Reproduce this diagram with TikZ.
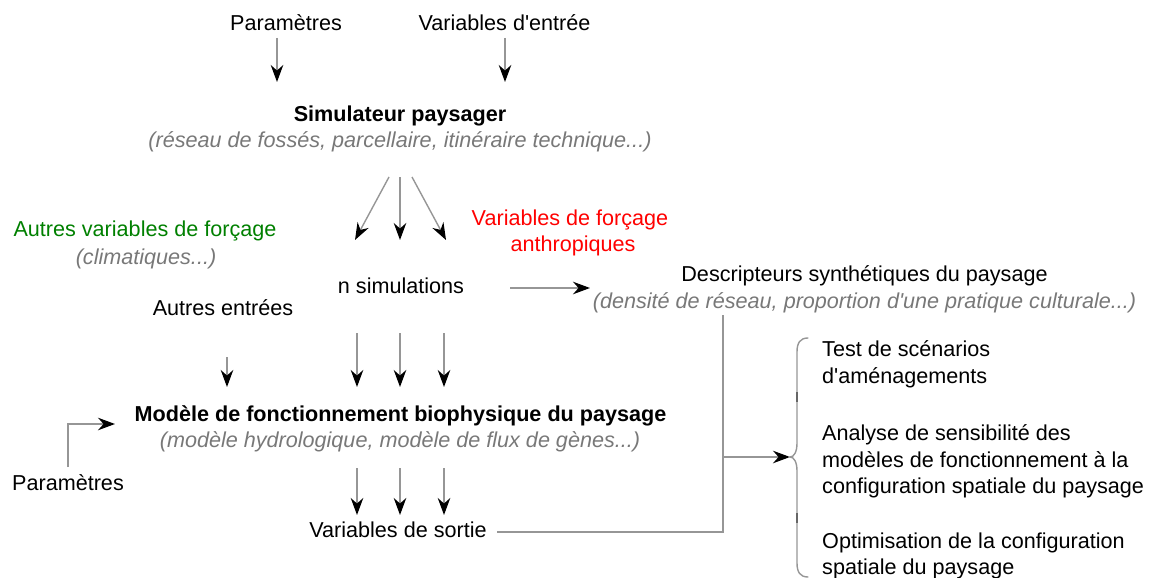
\documentclass[tikz,border=0pt]{standalone}
\usepackage{fontspec}
\setmainfont{Liberation Sans}
\usetikzlibrary{arrows.meta}
\definecolor{linegray}{RGB}{150,150,150}
\definecolor{subgray}{RGB}{120,120,120}
\definecolor{fgreen}{RGB}{0,128,0}
\definecolor{fred}{RGB}{255,0,0}
\tikzset{
  txt/.style={font=\fontsize{21.6}{27}\selectfont, inner sep=0pt, anchor=base},
  ttl/.style={txt, font=\fontsize{21.6}{27}\selectfont\bfseries},
  sub/.style={txt, font=\fontsize{21.6}{27}\selectfont\itshape, text=subgray},
  lft/.style={txt, anchor=base west},
  conn/.style={draw=linegray, line width=1.4pt},
  arr/.style={conn, -{Stealth[length=17pt, width=12.5pt, inset=5.5pt, color=black]}},
}
\begin{document}
\begin{tikzpicture}[x=1pt, y=-1pt]
\useasboundingbox (0,0) rectangle (1151,578);
% top inputs
\node[txt] (par1) at (286,31) {Paramètres};
\node[txt] (vin) at (504.5,31) {Variables d\textquotesingle entrée};
\node[ttl] (sim) at (400,121) {Simulateur paysager};
\node[sub] (simsub) at (400,147) {(réseau de fossés, parcellaire, itinéraire technique...)};
% forcing
\node[txt, text=fgreen] (avf) at (145,236) {Autres variables de forçage};
\node[sub] (clim) at (146,264) {(climatiques...)};
\node[txt, text=fred] (vfa1) at (570,225) {Variables de forçage};
\node[txt, text=fred] (vfa2) at (573,251) {anthropiques};
\node[txt] (nsim) at (401,293) {n simulations};
\node[txt] (desc) at (864.5,281) {Descripteurs synthétiques du paysage};
\node[sub] (descsub) at (864.5,308) {(densité de réseau, proportion d\textquotesingle une pratique culturale...)};
\node[txt] (aent) at (223,315) {Autres entrées};
% model
\node[ttl] (mod) at (400.5,421) {Modèle de fonctionnement biophysique du paysage};
\node[sub] (modsub) at (400,447) {(modèle hydrologique, modèle de flux de gènes...)};
\node[txt] (par2) at (68,490) {Paramètres};
\node[txt] (vsor) at (398,537) {Variables de sortie};
% right texts
\node[lft] (r1) at (822,356) {Test de scénarios};
\node[lft] (r2) at (822,383) {d\textquotesingle aménagements};
\node[lft] (r3) at (822,440) {Analyse de sensibilité des};
\node[lft] (r4) at (822,467) {modèles de fonctionnement à la};
\node[lft] (r5) at (822,493) {configuration spatiale du paysage};
\node[lft] (r6) at (822,548) {Optimisation de la configuration};
\node[lft] (r7) at (822,574) {spatiale du paysage};

% coordinates for connector ends
\coordinate (a1s) at (277,38);  \coordinate (a1e) at (277,82);
\coordinate (a2s) at (505,38);  \coordinate (a2e) at (505,82);
\coordinate (b1s) at (389,177); \coordinate (b1e) at (355,240);
\coordinate (b2s) at (400,177); \coordinate (b2e) at (400,240);
\coordinate (b3s) at (412,177); \coordinate (b3e) at (446,240);
\coordinate (cs) at (510,288);  \coordinate (ce) at (590,288);
\coordinate (ds) at (227,357);  \coordinate (de) at (227,387);
\coordinate (e1s) at (357,333); \coordinate (e1e) at (357,387);
\coordinate (e2s) at (400,333); \coordinate (e2e) at (400,387);
\coordinate (e3s) at (444,333); \coordinate (e3e) at (444,387);
\coordinate (fs) at (68,467);   \coordinate (fk) at (68,424); \coordinate (fe) at (115,424);
\coordinate (g1s) at (357,468); \coordinate (g1e) at (357,515);
\coordinate (g2s) at (400,468); \coordinate (g2e) at (400,515);
\coordinate (g3s) at (444,468); \coordinate (g3e) at (444,515);
\coordinate (hs) at (497,532);  \coordinate (hk) at (723,532); \coordinate (ht) at (723,315);
\coordinate (hm) at (723,457);  \coordinate (he) at (790,457);

\draw[arr] (a1s) -- (a1e);
\draw[arr] (a2s) -- (a2e);
\draw[arr] (b1s) -- (b1e);
\draw[arr] (b2s) -- (b2e);
\draw[arr] (b3s) -- (b3e);
\draw[arr] (cs) -- (ce);
\draw[arr] (ds) -- (de);
\draw[arr] (e1s) -- (e1e);
\draw[arr] (e2s) -- (e2e);
\draw[arr] (e3s) -- (e3e);
\draw[arr] (fs) -- (fk) -- (fe);
\draw[arr] (g1s) -- (g1e);
\draw[arr] (g2s) -- (g2e);
\draw[arr] (g3s) -- (g3e);
\draw[conn] (hs) -- (hk) -- (ht);
\draw[arr] (hm) -- (he);
% brace
\draw[conn, line cap=round] (808,338) .. controls (800,338) and (797,343) .. (797,352) -- (797,443)
  .. controls (797,452) and (794,457) .. (790,457)
  .. controls (794,457) and (797,462) .. (797,471) -- (797,563)
  .. controls (797,572) and (800,577) .. (808,577);
\draw[draw=black!60, line width=1.4pt] (797,392) -- (797,402);
\draw[draw=black!60, line width=1.4pt] (797,513) -- (797,523);
\end{tikzpicture}
\end{document}
